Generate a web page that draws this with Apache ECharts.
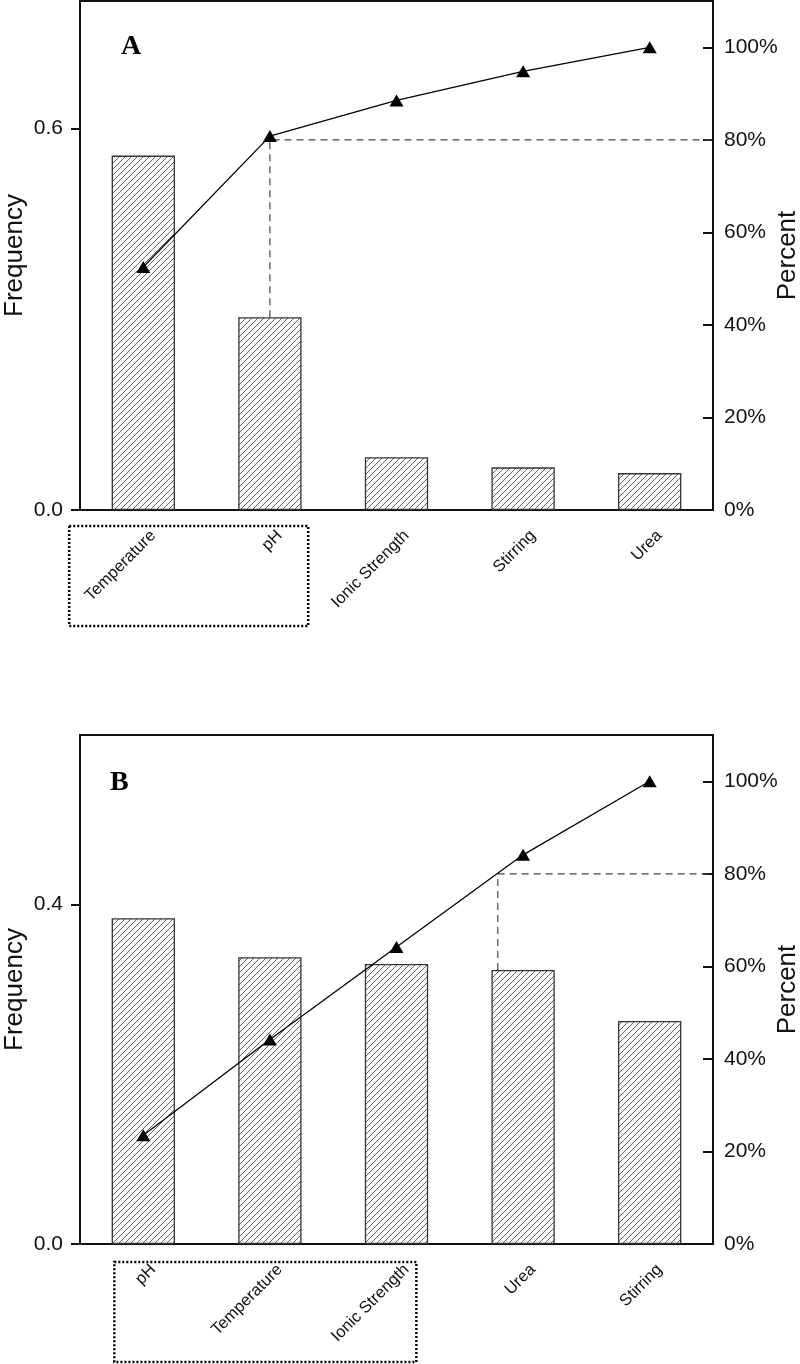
<!DOCTYPE html>
<html>
<head>
<meta charset="utf-8">
<script src="https://cdn.jsdelivr.net/npm/echarts@6/dist/echarts.min.js"></script>
<style>
html,body{margin:0;padding:0;background:#fff;}
#c{width:800px;height:1364px;}
</style>
</head>
<body>
<div id="c"></div>
<script>
// ---- data ----
const catsA = ['Temperature', 'pH', 'Ionic Strength', 'Stirring', 'Urea'];
const freqA = [0.557, 0.303, 0.083, 0.067, 0.058];
const cumPctA = [52.5, 80.8, 88.5, 94.8, 100];

const catsB = ['pH', 'Temperature', 'Ionic Strength', 'Urea', 'Stirring'];
const freqB = [0.384, 0.338, 0.330, 0.323, 0.263];
const cumPctB = [23.5, 44.2, 64.2, 84.1, 100];

const freqTicksA = [0, 0.6];
const freqTicksB = [0, 0.4];
const pctTicks = [0, 20, 40, 60, 80, 100];
const freqMaxA = 0.8, freqMaxB = 0.6, pctMax = 110;
const cutoffPct = 80;
const cutoffXA = 1.0;   // category position of the 80% guide (A)
const cutoffXB = 2.8;   // category position of the 80% guide (B)
const panelLetters = ['A', 'B'];

// ---- hatch pattern ----
function hatch() {
  const s = 6;
  const c = document.createElement('canvas');
  c.width = s; c.height = s;
  const g = c.getContext('2d');
  g.fillStyle = '#fff';
  g.fillRect(0, 0, s, s);
  g.strokeStyle = '#555';
  g.lineWidth = 0.9;
  g.beginPath();
  g.moveTo(-1, s + 1); g.lineTo(s + 1, -1);
  g.moveTo(-1, 1); g.lineTo(1, -1);
  g.moveTo(s - 1, s + 1); g.lineTo(s + 1, s - 1);
  g.stroke();
  return { image: c, repeat: 'repeat' };
}
const pat = hatch();

const FONT = '"Liberation Sans", Arial, sans-serif';
const ink = '#111';

function xCat(grid, cats) {
  return {
    type: 'category', gridIndex: grid, data: cats,
    axisLine: { onZero: false, lineStyle: { color: ink, width: 2 } },
    axisTick: { alignWithLabel: true, length: 10, lineStyle: { color: ink, width: 2 } },
    axisLabel: {
      rotate: 45, color: ink, fontFamily: FONT, fontSize: 16.5,
      margin: 33, padding: [0, -14, 0, 0], interval: 0
    },
    splitLine: { show: false }
  };
}
function xVal(grid) {
  return { type: 'value', gridIndex: grid, min: -0.5, max: 4.5, show: false,
    axisLine: { onZero: false } };
}
function yFreq(grid, max, ticks) {
  return {
    type: 'value', gridIndex: grid, position: 'left', min: 0, max: max,
    name: 'Frequency', nameLocation: 'middle', nameGap: 52, nameRotate: 90, nameMoveOverlap: false,
    nameTextStyle: { fontFamily: FONT, fontSize: 26, color: ink },
    axisLine: { show: true, onZero: false, lineStyle: { color: ink, width: 2 } },
    axisTick: { show: true, length: 9, customValues: ticks, lineStyle: { color: ink, width: 2 } },
    axisLabel: { customValues: ticks, margin: 17, color: ink, fontFamily: FONT, fontSize: 21,
      formatter: v => v.toFixed(1) },
    splitLine: { show: false }
  };
}
function yPct(grid) {
  return {
    type: 'value', gridIndex: grid, position: 'right', min: 0, max: pctMax,
    name: 'Percent', nameLocation: 'middle', nameGap: 62, nameRotate: 90, nameMoveOverlap: false,
    nameTextStyle: { fontFamily: FONT, fontSize: 26, color: ink },
    axisLine: { show: true, onZero: false, lineStyle: { color: ink, width: 2 } },
    axisTick: { show: true, inside: true, length: 10, customValues: pctTicks, lineStyle: { color: ink, width: 2 } },
    axisLabel: { customValues: pctTicks, margin: 11, color: ink, fontFamily: FONT, fontSize: 21,
      formatter: v => v + '%' },
    splitLine: { show: false }
  };
}

function barSeries(xi, yi, data) {
  return {
    type: 'bar', xAxisIndex: xi, yAxisIndex: yi, data: data, barWidth: '50%',
    itemStyle: { color: pat, borderColor: '#333', borderWidth: 1.3 },
    silent: true, animation: false
  };
}
function lineSeries(xi, yi, cum) {
  return {
    type: 'line', xAxisIndex: xi, yAxisIndex: yi,
    data: cum.map((v, i) => [i, v]),
    symbol: 'triangle', symbolSize: [14, 12],
    itemStyle: { color: '#000' },
    lineStyle: { color: '#000', width: 1.3 },
    z: 5, animation: false
  };
}
function guideSeries(xi, yi, cutX, freqs, freqMax) {
  const idx = Math.round(cutX);
  const barTopPct = freqs[idx] * pctMax / freqMax;
  return {
    type: 'line', xAxisIndex: xi, yAxisIndex: yi,
    data: [[cutX, barTopPct], [cutX, cutoffPct], [4.5, cutoffPct]],
    symbol: 'none',
    lineStyle: { color: '#444', width: 1.2, type: [7, 5] },
    z: 4, animation: false, silent: true
  };
}

const gridBase = { left: 80, right: 87, height: 509, show: true, borderColor: ink, borderWidth: 2,
  backgroundColor: 'transparent', containLabel: false, outerBoundsMode: 'none' };

const chart = echarts.init(document.getElementById('c'));
chart.setOption({
  backgroundColor: '#fff',
  animation: false,
  grid: [
    Object.assign({ top: 1 }, gridBase),
    Object.assign({ top: 735 }, gridBase)
  ],
  xAxis: [xCat(0, catsA), xVal(0), xCat(1, catsB), xVal(1)],
  yAxis: [yFreq(0, freqMaxA, freqTicksA), yPct(0), yFreq(1, freqMaxB, freqTicksB), yPct(1)],
  series: [
    barSeries(0, 0, freqA),
    guideSeries(1, 1, cutoffXA, freqA, freqMaxA),
    lineSeries(1, 1, cumPctA),
    barSeries(2, 2, freqB),
    guideSeries(3, 3, cutoffXB, freqB, freqMaxB),
    lineSeries(3, 3, cumPctB)
  ]
});

// annotation boxes around the vital few categories, and panel letters
function box(xi, yi, x0, x1, dyTop, dyBot) {
  const a = chart.convertToPixel({ xAxisIndex: xi, yAxisIndex: yi }, [x0, 0]);
  const b = chart.convertToPixel({ xAxisIndex: xi, yAxisIndex: yi }, [x1, 0]);
  return {
    type: 'rect', silent: true,
    shape: { x: a[0], y: a[1] + dyTop, width: b[0] - a[0], height: dyBot - dyTop },
    style: { fill: 'none', stroke: '#000', lineWidth: 2.5, lineDash: [2, 2] }
  };
}
chart.setOption({
  graphic: [
    box(1, 1, -0.585, 1.303, 16, 116),
    box(3, 3, -0.229, 2.157, 18, 118),
    { type: 'text', left: 121, top: 33, silent: true,
      style: { text: panelLetters[0], font: 'bold 28px "Liberation Serif", "Times New Roman", serif', fill: '#000' } },
    { type: 'text', left: 110, top: 769, silent: true,
      style: { text: panelLetters[1], font: 'bold 28px "Liberation Serif", "Times New Roman", serif', fill: '#000' } }
  ]
});
</script>
</body>
</html>
